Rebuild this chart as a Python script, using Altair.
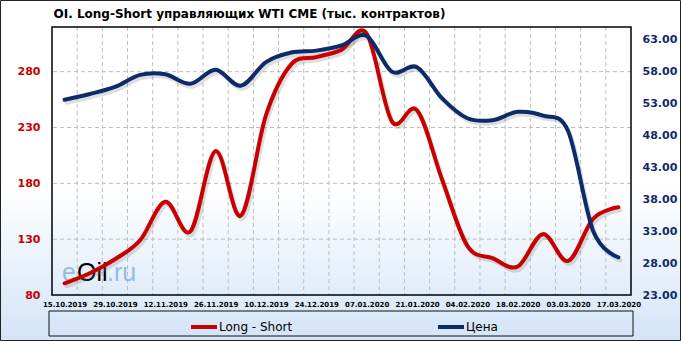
import altair as alt
import pandas as pd

# ---------------- data ----------------
dates = ["15.10.2019", "22.10.2019", "29.10.2019", "05.11.2019", "12.11.2019",
         "19.11.2019", "26.11.2019", "03.12.2019", "10.12.2019", "17.12.2019",
         "24.12.2019", "31.12.2019", "07.01.2020", "14.01.2020", "21.01.2020",
         "28.01.2020", "04.02.2020", "11.02.2020", "18.02.2020", "25.02.2020",
         "03.03.2020", "10.03.2020", "17.03.2020"]
long_short = [90.5, 99.5, 112, 129, 163.5, 137, 209, 151, 241, 286.5, 293, 299.5,
              314, 235.5, 245.5, 183, 124, 113, 105.5, 134.5, 110.5, 148.5, 158.5]
price = [53.6, 54.5, 55.6, 57.5, 57.6, 56.1, 58.3, 55.8, 59.5, 61.0, 61.3, 62.1,
         63.6, 58.0, 58.7, 53.8, 50.7, 50.4, 51.7, 51.1, 48.7, 33.0, 28.9]
series_names = ["Long - Short", "Цена"]
left_ticks = [80, 130, 180, 230, 280]
right_ticks = [23, 28, 33, 38, 43, 48, 53, 58, 63]
title_text = "OI.  Long-Short  управляющих  WTI  CME  (тыс. контрактов)"

# ---------------- layout / style ----------------
W, H = 579, 268
L, T, R, B = 52, 27, 50, 46
RED = "#c80000"
NAVY = "#0d2a6a"
SANS = "Liberation Sans, Arial, sans-serif"
DJ = "DejaVu Sans, Verdana, sans-serif"

n = len(dates)
df_red = pd.DataFrame({"i": list(range(n)), "date": dates, "v": long_short, "s": series_names[0]})
df_blue = pd.DataFrame({"i": list(range(n)), "date": dates, "v": price, "s": series_names[1]})
df_vgrid = pd.DataFrame({"g": [k + 0.5 for k in range(n - 1)]})
df_hgrid = pd.DataFrame({"g": left_ticks[1:]})
one = pd.DataFrame({"a": [0]})

def xscale():
    return alt.Scale(domain=[-0.5, n - 0.5], nice=False, zero=False)

yl = alt.Scale(domain=[80, 320], nice=False, zero=False)
yr = alt.Scale(domain=[23, 65], nice=False, zero=False)
cscale = alt.Scale(domain=series_names, range=[RED, NAVY])

label_vals = list(range(0, n, 2))
label_expr = "[" + ",".join("'%s'" % d for d in dates) + "][round(datum.value)]"

x_axis = alt.Axis(values=label_vals, labelExpr=label_expr, grid=False, ticks=False, domain=False,
                  labelFont=DJ, labelFontSize=7, labelFontWeight="bold", labelColor="black",
                  labelPadding=5, labelOverlap=False, labelFlush=False,
                  zindex=1, orient="bottom")
left_axis = alt.Axis(values=left_ticks, orient="left", grid=False, ticks=False, domain=False,
                     labelColor=RED, labelFont=DJ, labelFontWeight="bold", labelFontSize=11,
                     labelPadding=12, labelFlush=False, zindex=1)
right_axis = alt.Axis(values=right_ticks, orient="right", format=".2f", grid=False, ticks=False,
                      domain=False, labelColor=NAVY, labelFont=DJ, labelFontWeight="bold",
                      labelFontSize=11, labelPadding=11, labelFlush=False, zindex=1)
legend = alt.Legend(title=None, orient="none", legendX=137, legendY=285, direction="horizontal",
                    symbolType="stroke", symbolStrokeWidth=4, symbolSize=676,
                    labelFont=DJ, labelFontSize=12, labelColor="black",
                    columnPadding=137, padding=0, labelOffset=0)

grad = alt.LinearGradient(gradient="linear",
                          stops=[alt.GradientStop(color="#ffffff", offset=0),
                                 alt.GradientStop(color="#ffffff", offset=0.55),
                                 alt.GradientStop(color="#d3e4f7", offset=1)],
                          x1=0, x2=0, y1=0, y2=1)

bg = alt.Chart(one).mark_rect(fill=grad, strokeWidth=0).encode(
    x=alt.value(-L), x2=alt.value(W + R), y=alt.value(-T), y2=alt.value(H + B))
outer = alt.Chart(one).mark_rect(fillOpacity=0, stroke="#222222", strokeWidth=1).encode(
    x=alt.value(-L + 0.5), x2=alt.value(W + R - 0.5), y=alt.value(-T + 0.5), y2=alt.value(H + B - 0.5))
legbox = alt.Chart(one).mark_rect(fillOpacity=0, stroke="#111111", strokeWidth=1).encode(
    x=alt.value(-3), x2=alt.value(581), y=alt.value(284), y2=alt.value(309))

vgrid = alt.Chart(df_vgrid).mark_rule(color="#bdbdbd", strokeDash=[4, 3], strokeWidth=1).encode(
    x=alt.X("g:Q", scale=xscale(), axis=None))
hgrid = alt.Chart(df_hgrid).mark_rule(color="#bdbdbd", strokeDash=[4, 3], strokeWidth=1).encode(
    y=alt.Y("g:Q", scale=yl, axis=None))

wm_e = alt.Chart(one).mark_text(text="e", font=SANS, fontSize=25, color="#7fb0de",
                                align="left", baseline="alphabetic", opacity=0.8).encode(
    x=alt.value(10), y=alt.value(254))
wm_oil = alt.Chart(one).mark_text(text="Oil", font=SANS, fontSize=25, color="#000000",
                                  align="left", baseline="alphabetic").encode(
    x=alt.value(25), y=alt.value(254))
wm_ru = alt.Chart(one).mark_text(text=".ru", font=SANS, fontSize=25, color="#7fb0de",
                                 align="left", baseline="alphabetic", opacity=0.8).encode(
    x=alt.value(55), y=alt.value(254))

line_kw = dict(interpolate="cardinal", strokeWidth=4, strokeCap="round", strokeJoin="round")
red_sh = alt.Chart(df_red).mark_line(color="#7a7a7a", opacity=0.25, xOffset=2, yOffset=3, **line_kw).encode(
    x=alt.X("i:Q", scale=xscale(), axis=None), y=alt.Y("v:Q", scale=yl, axis=None))
blue_sh = alt.Chart(df_blue).mark_line(color="#7a7a7a", opacity=0.25, xOffset=2, yOffset=3, **line_kw).encode(
    x=alt.X("i:Q", scale=xscale(), axis=None), y=alt.Y("v:Q", scale=yr, axis=None))
red = alt.Chart(df_red).mark_line(**line_kw).encode(
    x=alt.X("i:Q", scale=xscale(), axis=x_axis, title=None),
    y=alt.Y("v:Q", scale=yl, axis=left_axis, title=None),
    color=alt.Color("s:N", scale=cscale, legend=legend))
blue = alt.Chart(df_blue).mark_line(**line_kw).encode(
    x=alt.X("i:Q", scale=xscale(), axis=None),
    y=alt.Y("v:Q", scale=yr, axis=right_axis, title=None),
    color=alt.Color("s:N", scale=cscale, legend=legend))
frame = alt.Chart(one).mark_rect(fillOpacity=0, stroke="#000000", strokeWidth=1.5).encode(
    x=alt.value(0), x2=alt.value(W), y=alt.value(0), y2=alt.value(H))

chart = alt.layer(
    bg, outer, legbox, vgrid, hgrid, wm_e, wm_oil, wm_ru, red_sh, blue_sh, red, blue, frame
).resolve_scale(x="independent", y="independent").properties(
    width=W, height=H,
    autosize=alt.AutoSizeParams(type="none"),
    padding={"left": L, "top": T, "right": R, "bottom": B},
    title=alt.TitleParams(title_text, anchor="start", frame="group", dx=1.5, dy=29, offset=8,
                          fontSize=12, font=DJ, fontWeight="bold", color="black"),
    background="#ffffff",
).configure_view(strokeWidth=0)

chart.save("out.html", embed_options={"renderer": "svg", "actions": False})
